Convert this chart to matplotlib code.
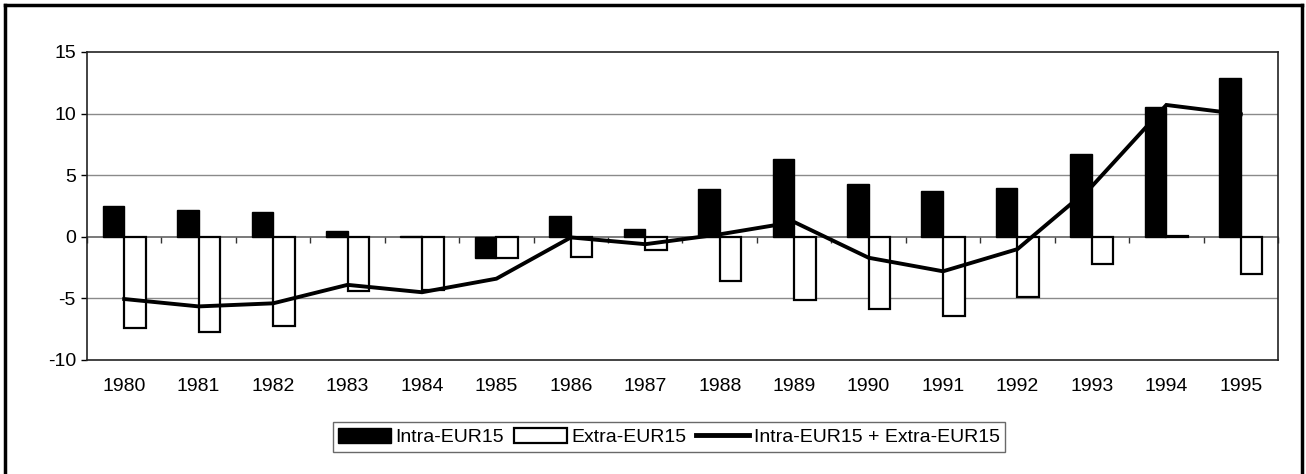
import numpy as np
import matplotlib

matplotlib.use("Agg")
from matplotlib import pyplot as plt
from matplotlib.lines import Line2D
from matplotlib.patches import Rectangle

plt.rcParams["font.family"] = ["Liberation Sans", "DejaVu Sans"]

years = [str(y) for y in range(1980, 1996)]
intra = [2.5, 2.2, 2.0, 0.5, 0.05, -1.7, 1.7, 0.6, 3.85, 6.3, 4.3, 3.7, 4.0, 6.7, 10.5, 12.9]
extra = [-7.4, -7.7, -7.2, -4.4, -4.3, -1.7, -1.6, -1.1, -3.6, -5.1, -5.9, -6.4, -4.9, -2.2, 0.1, -3.0]
total = [-5.05, -5.65, -5.4, -3.9, -4.5, -3.4, -0.05, -0.6, 0.2, 1.2, -1.7, -2.8, -1.0, 4.1, 10.7, 9.95]

labels = ["Intra-EUR15", "Extra-EUR15", "Intra-EUR15 + Extra-EUR15"]

W, H = 1306, 474
fig = plt.figure(figsize=(W / 100, H / 100), dpi=100)
ax = fig.add_axes([87 / W, 1 - 360 / H, (1278 - 87) / W, (360 - 52) / H])

x = np.arange(len(years))
bw = 0.29
ax.bar(x - bw / 2, intra, bw, color="black", edgecolor="black", linewidth=1, zorder=3)
ax.bar(x + bw / 2, extra, bw, color="white", edgecolor="black", linewidth=1.6, zorder=3)
ax.plot(x, total, color="black", linewidth=2.8, zorder=4, solid_joinstyle="miter")

ax.set_xlim(-0.5, len(years) - 0.5)
ax.set_ylim(-10, 15)
ax.set_yticks([-10, -5, 0, 5, 10, 15])
ax.set_yticklabels(["-10", "-5", "0", "5", "10", "15"])
ax.set_xticks(x)
ax.set_xticklabels(years)
ax.tick_params(axis="x", length=0, pad=13, labelsize=14)
ax.tick_params(axis="y", length=4, width=1, pad=4, labelsize=14, direction="out")

for y in [-5, 5, 10]:
    ax.axhline(y, color="#8a8a8a", linewidth=1, zorder=1)
for s in ax.spines.values():
    s.set_color("#222222")
    s.set_linewidth(1.2)

# category axis crossing at zero, with ticks between the categories
zero_ax = ax.secondary_xaxis(0.4)
zero_ax.set_xticks(np.arange(-0.5, len(years), 1.0))
zero_ax.tick_params(length=4, width=1, labelbottom=False, color="#333333")
zero_ax.spines["bottom"].set_color("#555555")
zero_ax.spines["bottom"].set_linewidth(1.1)

handles = [
    Rectangle((0, 0), 1, 1, facecolor="black", edgecolor="black"),
    Rectangle((0, 0), 1, 1, facecolor="white", edgecolor="black", linewidth=1.6),
    Line2D([0], [0], color="black", linewidth=3.5),
]
leg = fig.legend(handles, labels, loc="center", bbox_to_anchor=(669 / W, 1 - 437 / H),
                 ncol=3, fontsize=14, frameon=True, fancybox=False,
                 handlelength=2.7, handleheight=0.8, handletextpad=0.25,
                 columnspacing=0.5, borderpad=0.3, borderaxespad=0)
leg.get_frame().set_edgecolor("#444444")
leg.get_frame().set_linewidth(1)

# outer frame of the chart
fig.add_artist(Line2D([5 / W, 5 / W], [0, 1 - 5 / H], transform=fig.transFigure,
                      color="black", linewidth=2.5))
fig.add_artist(Line2D([5 / W, 1302 / W], [1 - 5 / H, 1 - 5 / H], transform=fig.transFigure,
                      color="black", linewidth=2.5))
fig.add_artist(Line2D([1302 / W, 1302 / W], [0, 1 - 5 / H], transform=fig.transFigure,
                      color="black", linewidth=2.5))

fig.savefig("out.png", dpi=100)
